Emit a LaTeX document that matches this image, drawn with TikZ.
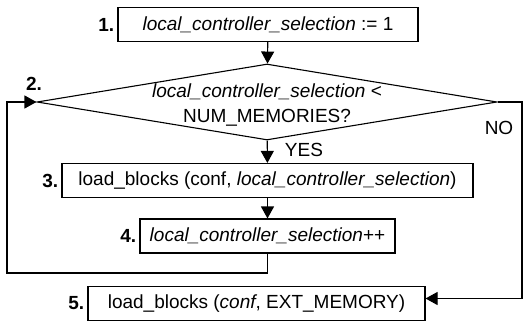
\documentclass[tikz,border=0pt]{standalone}
\usepackage{fontspec}
\setmainfont{Liberation Sans}
\usetikzlibrary{arrows.meta, positioning, shapes.geometric}

\begin{document}
\begin{tikzpicture}[
  x=1pt, y=-1pt,
  font=\fontsize{19}{25}\selectfont,
  block/.style={
    rectangle,
    draw=black,
    line width=1.1pt,
    minimum width=#1,
    minimum height=34pt,
    inner sep=0pt
  },
  decision/.style={
    diamond,
    draw=black,
    line width=1.1pt,
    minimum width=460pt,
    minimum height=76pt,
    inner sep=0pt
  },
  steplabel/.style={
    font=\fontsize{19}{25}\selectfont\bfseries,
    inner sep=3pt
  },
  flow/.style={
    -{Triangle[width=13pt,length=12pt]},
    line width=1.1pt
  }
]

% page with the reference margins
\fill[white] (0,0) rectangle (525,321);
\useasboundingbox (0,0) rectangle (525,321);

% Steps
\node[block=300pt, label={[steplabel]left:1.}] (init) at (268,24.5)
  {\textit{local\_controller\_selection} := 1};
\node[decision] (cond) at (267,102) {};
\node[align=center] (condtext) at (267,105)
  {\textit{local\_controller\_selection} <\\NUM\_MEMORIES?};
\node[block=411pt, label={[steplabel]left:3.}] (load) at (267.5,180.5)
  {load\_blocks (conf, \textit{local\_controller\_selection})};
\node[block=255pt, label={[steplabel]left:4.}] (incr) at (267.5,236)
  {\textit{local\_controller\_selection}++};
\node[block=337pt, label={[steplabel]left:5.}] (ext) at (256.5,303.5)
  {load\_blocks (\textit{conf}, EXT\_MEMORY)};

% Labels
\node[steplabel] (two) at (34,84) {2.};
\node (yes) at (304,150) {YES};
\node (no) at (499,128) {NO};

% Corners of the two loops
\coordinate (loopc) at (7,273);
\coordinate (noc) at (522,200);

% Arrows
\draw[flow] (init) -- (cond);
\draw[flow] (cond) -- (load);
\draw[flow] (load) -- (incr);
\draw[flow] (incr.south) |- (loopc) |- (cond.west);
\draw[flow] (cond.east) -| (noc) |- ([yshift=5pt]ext.east);

\end{tikzpicture}
\end{document}
